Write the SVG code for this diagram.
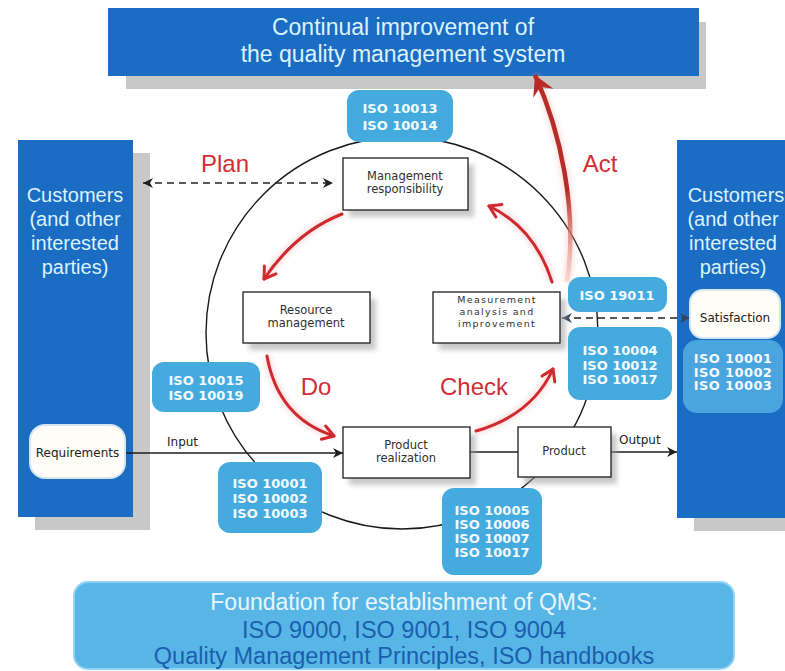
<svg xmlns="http://www.w3.org/2000/svg" width="785" height="671" viewBox="0 0 785 671">
  <defs>
    <style>
      .big{fill:#1b6cc3}
      .bigshadow{fill:#c8c8c8}
      .bigtxt{font-family:"Liberation Sans",Arial,sans-serif;font-size:20px;fill:#dcf3ff;text-anchor:middle}
      .box{fill:#fff;stroke:#1e1e1e;stroke-width:1.3}
      .boxshadow{fill:#9c9c9c;opacity:.55}
      .boxtxt{font-family:"DejaVu Sans",sans-serif;font-size:11.5px;fill:#303030;text-anchor:middle}
      .boxtxt-sm{font-family:"DejaVu Sans",sans-serif;font-size:9.5px;letter-spacing:1.3px;fill:#303030;text-anchor:middle}
      .badge{fill:#45abdf}
      .badgetxt{font-family:"DejaVu Sans",sans-serif;font-weight:bold;font-size:13px;fill:#f4fbff;text-anchor:middle}
      .pill{fill:#fffdf7;stroke:#d5e5f2;stroke-width:2}
      .pdca{font-family:"Liberation Sans",Arial,sans-serif;font-size:24px;fill:#d12d35;text-anchor:middle}
      .red{fill:none;stroke:#cf2a30;stroke-width:3;stroke-linecap:round}
      .redglow{fill:none;stroke:#f2a0a0;stroke-width:7;opacity:.35}
      .flow{fill:none;stroke:#1e1e1e;stroke-width:1.5}
      .dash{fill:none;stroke:#222;stroke-width:1.5;stroke-dasharray:7 5}
      .lbl{font-family:"DejaVu Sans",sans-serif;font-size:12px;fill:#222}
    </style>
    <filter id="blur" x="-20%" y="-20%" width="140%" height="140%">
      <feGaussianBlur stdDeviation="2.5"/>
    </filter>
    <marker id="headBlack" viewBox="-10 -6 11 12" refX="0" refY="0" markerWidth="11" markerHeight="12" markerUnits="userSpaceOnUse" orient="auto-start-reverse">
      <path d="M-10,-5 L0,0 L-10,5 L-7,0 Z" fill="#1e1e1e"/>
    </marker>
    <marker id="headSlate" viewBox="-10 -6 11 12" refX="0" refY="0" markerWidth="11" markerHeight="12" markerUnits="userSpaceOnUse" orient="auto-start-reverse">
      <path d="M-10,-5 L0,0 L-10,5 L-7,0 Z" fill="#34495e"/>
    </marker>
    <marker id="headRed" viewBox="-14 -9 16 18" refX="0" refY="0" markerWidth="16" markerHeight="18" markerUnits="userSpaceOnUse" orient="auto">
      <path d="M-11,-7 L0,0 L-11,7" fill="none" stroke="#cf2a30" stroke-width="3" stroke-linecap="round" stroke-linejoin="round"/>
    </marker>
    <marker id="headAct" viewBox="-22 -13 24 26" refX="0" refY="0" markerWidth="24" markerHeight="26" markerUnits="userSpaceOnUse" orient="auto">
      <path d="M-20,-11 L0,0 L-20,11 L-13,0 Z" fill="#b82b26"/>
    </marker>
    <linearGradient id="actFade" gradientUnits="userSpaceOnUse" x1="0" y1="285" x2="0" y2="190">
      <stop offset="0" stop-color="#f0b8a8" stop-opacity="0.3"/>
      <stop offset="1" stop-color="#b82b26"/>
    </linearGradient>
  </defs>

  <rect width="785" height="671" fill="#ffffff"/>

  <!-- PDCA cycle ring -->
  <circle cx="402" cy="333" r="196" fill="none" stroke="#1a1a1a" stroke-width="1.4"/>

  <!-- Top banner -->
  <g id="improvement">
    <rect class="bigshadow" x="126" y="22" width="580" height="67"/>
    <rect class="big" x="108" y="8" width="591" height="68"/>
    <text x="403" y="35" font-family="Liberation Sans, Arial, sans-serif" font-size="23" fill="#dcf3ff" text-anchor="middle">Continual improvement of</text>
    <text x="403" y="62" font-family="Liberation Sans, Arial, sans-serif" font-size="23" fill="#dcf3ff" text-anchor="middle">the quality management system</text>
  </g>

  <!-- Customers, left -->
  <g id="customers-left">
    <rect class="bigshadow" x="35" y="153" width="115" height="377"/>
    <rect class="big" x="18" y="140" width="115" height="377"/>
    <text class="bigtxt" x="75" y="202">Customers</text>
    <text class="bigtxt" x="75" y="226">(and other</text>
    <text class="bigtxt" x="75" y="250">interested</text>
    <text class="bigtxt" x="75" y="274">parties)</text>
  </g>

  <!-- Customers, right -->
  <g id="customers-right">
    <rect class="bigshadow" x="694" y="153" width="100" height="378"/>
    <rect class="big" x="677" y="140" width="115" height="378"/>
    <text class="bigtxt" x="736" y="202">Customers</text>
    <text class="bigtxt" x="733" y="226">(and other</text>
    <text class="bigtxt" x="733" y="250">interested</text>
    <text class="bigtxt" x="733" y="274">parties)</text>
  </g>

  <!-- Foundation banner -->
  <g id="foundation">
    <rect x="74" y="582" width="660" height="87" rx="14" fill="#58b6e6" stroke="#8fd2f2" stroke-width="2"/>
    <text x="404" y="610" font-family="Liberation Sans, Arial, sans-serif" font-size="23" fill="#e8f7ff" text-anchor="middle">Foundation for establishment of QMS:</text>
    <text x="404" y="638" font-family="Liberation Sans, Arial, sans-serif" font-size="23.5" fill="#1a5fae" text-anchor="middle">ISO 9000, ISO 9001, ISO 9004</text>
    <text x="404" y="664" font-family="Liberation Sans, Arial, sans-serif" font-size="23.5" fill="#1a5fae" text-anchor="middle">Quality Management Principles, ISO handbooks</text>
  </g>

  <!-- Connectors -->
  <g id="connectors">
    <!-- Plan: customers to management -->
    <line class="dash" x1="143" y1="183" x2="333" y2="183" marker-start="url(#headBlack)" marker-end="url(#headBlack)"/>
    <!-- Satisfaction feedback -->
    <line class="dash" x1="562" y1="318" x2="690" y2="318" stroke="#34495e" marker-start="url(#headSlate)" marker-end="url(#headSlate)"/>
    <!-- Input / output flow -->
    <line class="flow" x1="125" y1="453" x2="343" y2="453" marker-end="url(#headBlack)"/>
    <line class="flow" x1="470" y1="452" x2="518" y2="452"/>
    <line class="flow" x1="611" y1="452" x2="677" y2="452" marker-end="url(#headBlack)"/>

    <!-- PDCA arrows -->
    <path class="redglow" d="M342,214 Q296,232 264,279" filter="url(#blur)"/>
    <path class="red" d="M342,214 Q296,232 264,279" marker-end="url(#headRed)"/>
    <path class="redglow" d="M267,356 Q278,418 334,436" filter="url(#blur)"/>
    <path class="red" d="M267,356 Q278,418 334,436" marker-end="url(#headRed)"/>
    <path class="redglow" d="M476,431 Q532,415 553,369" filter="url(#blur)"/>
    <path class="red" d="M476,431 Q532,415 553,369" marker-end="url(#headRed)"/>
    <path class="redglow" d="M552,282 Q535,228 489,206" filter="url(#blur)"/>
    <path class="red" d="M552,282 Q535,228 489,206" marker-end="url(#headRed)"/>
    <!-- Act: up to continual improvement -->
    <path d="M567,282 C578,210 560,130 535,75" fill="none" stroke="#f2b0a8" stroke-width="9" opacity="0.35" filter="url(#blur)"/>
    <path d="M567,282 C578,210 560,130 535,75" fill="none" stroke="url(#actFade)" stroke-width="4.5" marker-end="url(#headAct)"/>
  </g>

  <!-- PDCA labels -->
  <text class="pdca" x="225" y="172">Plan</text>
  <text class="pdca" x="316" y="395">Do</text>
  <text class="pdca" x="474" y="395">Check</text>
  <text class="pdca" x="600" y="172">Act</text>

  <text class="lbl" x="167" y="446">Input</text>
  <text class="lbl" x="619" y="444">Output</text>

  <!-- Process boxes -->
  <g id="management">
    <rect class="boxshadow" x="349" y="165" width="125" height="52" filter="url(#blur)"/>
    <rect class="box" x="343" y="158" width="125" height="52"/>
    <text class="boxtxt" x="405" y="180">Management</text>
    <text class="boxtxt" x="405" y="193">responsibility</text>
  </g>
  <g id="resource">
    <rect class="boxshadow" x="249" y="299" width="127" height="51" filter="url(#blur)"/>
    <rect class="box" x="243" y="292" width="127" height="51"/>
    <text class="boxtxt" x="306" y="314">Resource</text>
    <text class="boxtxt" x="306" y="327">management</text>
  </g>
  <g id="measurement">
    <rect class="boxshadow" x="439" y="299" width="127" height="51" filter="url(#blur)"/>
    <rect class="box" x="433" y="292" width="127" height="51"/>
    <text class="boxtxt-sm" x="497" y="303">Measurement</text>
    <text class="boxtxt-sm" x="497" y="315">analysis and</text>
    <text class="boxtxt-sm" x="497" y="327">improvement</text>
  </g>
  <g id="realization">
    <rect class="boxshadow" x="349" y="434" width="127" height="51" filter="url(#blur)"/>
    <rect class="box" x="343" y="427" width="127" height="51"/>
    <text class="boxtxt" x="406" y="449">Product</text>
    <text class="boxtxt" x="406" y="462">realization</text>
  </g>
  <g id="product">
    <rect class="boxshadow" x="524" y="434" width="93" height="50" filter="url(#blur)"/>
    <rect class="box" x="518" y="427" width="93" height="50"/>
    <text class="boxtxt" x="564" y="455">Product</text>
  </g>

  <!-- Customer-side pills -->
  <g id="requirements">
    <rect class="pill" x="30" y="425" width="95" height="53" rx="15"/>
    <text class="lbl" x="77.5" y="457" text-anchor="middle">Requirements</text>
  </g>
  <g id="satisfaction">
    <rect class="pill" x="690" y="290" width="90" height="48" rx="13"/>
    <text class="lbl" x="735" y="322" text-anchor="middle" font-size="12.5">Satisfaction</text>
  </g>

  <!-- Supporting standards -->
  <g id="iso-10013">
    <rect class="badge" x="347" y="90" width="106" height="52" rx="12"/>
    <text class="badgetxt" x="400" y="113">ISO 10013</text>
    <text class="badgetxt" x="400" y="130">ISO 10014</text>
  </g>
  <g id="iso-10015">
    <rect class="badge" x="152" y="362" width="108" height="50" rx="12"/>
    <text class="badgetxt" x="206" y="385">ISO 10015</text>
    <text class="badgetxt" x="206" y="400">ISO 10019</text>
  </g>
  <g id="iso-10001-left">
    <rect class="badge" x="218" y="462" width="104" height="71" rx="12"/>
    <text class="badgetxt" x="270" y="488">ISO 10001</text>
    <text class="badgetxt" x="270" y="503">ISO 10002</text>
    <text class="badgetxt" x="270" y="518">ISO 10003</text>
  </g>
  <g id="iso-19011">
    <rect class="badge" x="568" y="277" width="99" height="35" rx="12"/>
    <text class="badgetxt" x="617" y="300">ISO 19011</text>
  </g>
  <g id="iso-10004">
    <rect class="badge" x="568" y="327" width="104" height="73" rx="12"/>
    <text class="badgetxt" x="620" y="355">ISO 10004</text>
    <text class="badgetxt" x="620" y="369.5">ISO 10012</text>
    <text class="badgetxt" x="620" y="384">ISO 10017</text>
  </g>
  <g id="iso-10001-right">
    <rect x="683" y="340" width="100" height="73" rx="14" fill="#4aa5df"/>
    <text class="badgetxt" x="733" y="363" font-size="12px" letter-spacing="0.4">ISO 10001</text>
    <text class="badgetxt" x="733" y="376.5" font-size="12px" letter-spacing="0.4">ISO 10002</text>
    <text class="badgetxt" x="733" y="390" font-size="12px" letter-spacing="0.4">ISO 10003</text>
  </g>
  <g id="iso-10005">
    <rect class="badge" x="442" y="488" width="100" height="87" rx="12"/>
    <text class="badgetxt" x="492" y="515">ISO 10005</text>
    <text class="badgetxt" x="492" y="529">ISO 10006</text>
    <text class="badgetxt" x="492" y="543">ISO 10007</text>
    <text class="badgetxt" x="492" y="557">ISO 10017</text>
  </g>
</svg>
